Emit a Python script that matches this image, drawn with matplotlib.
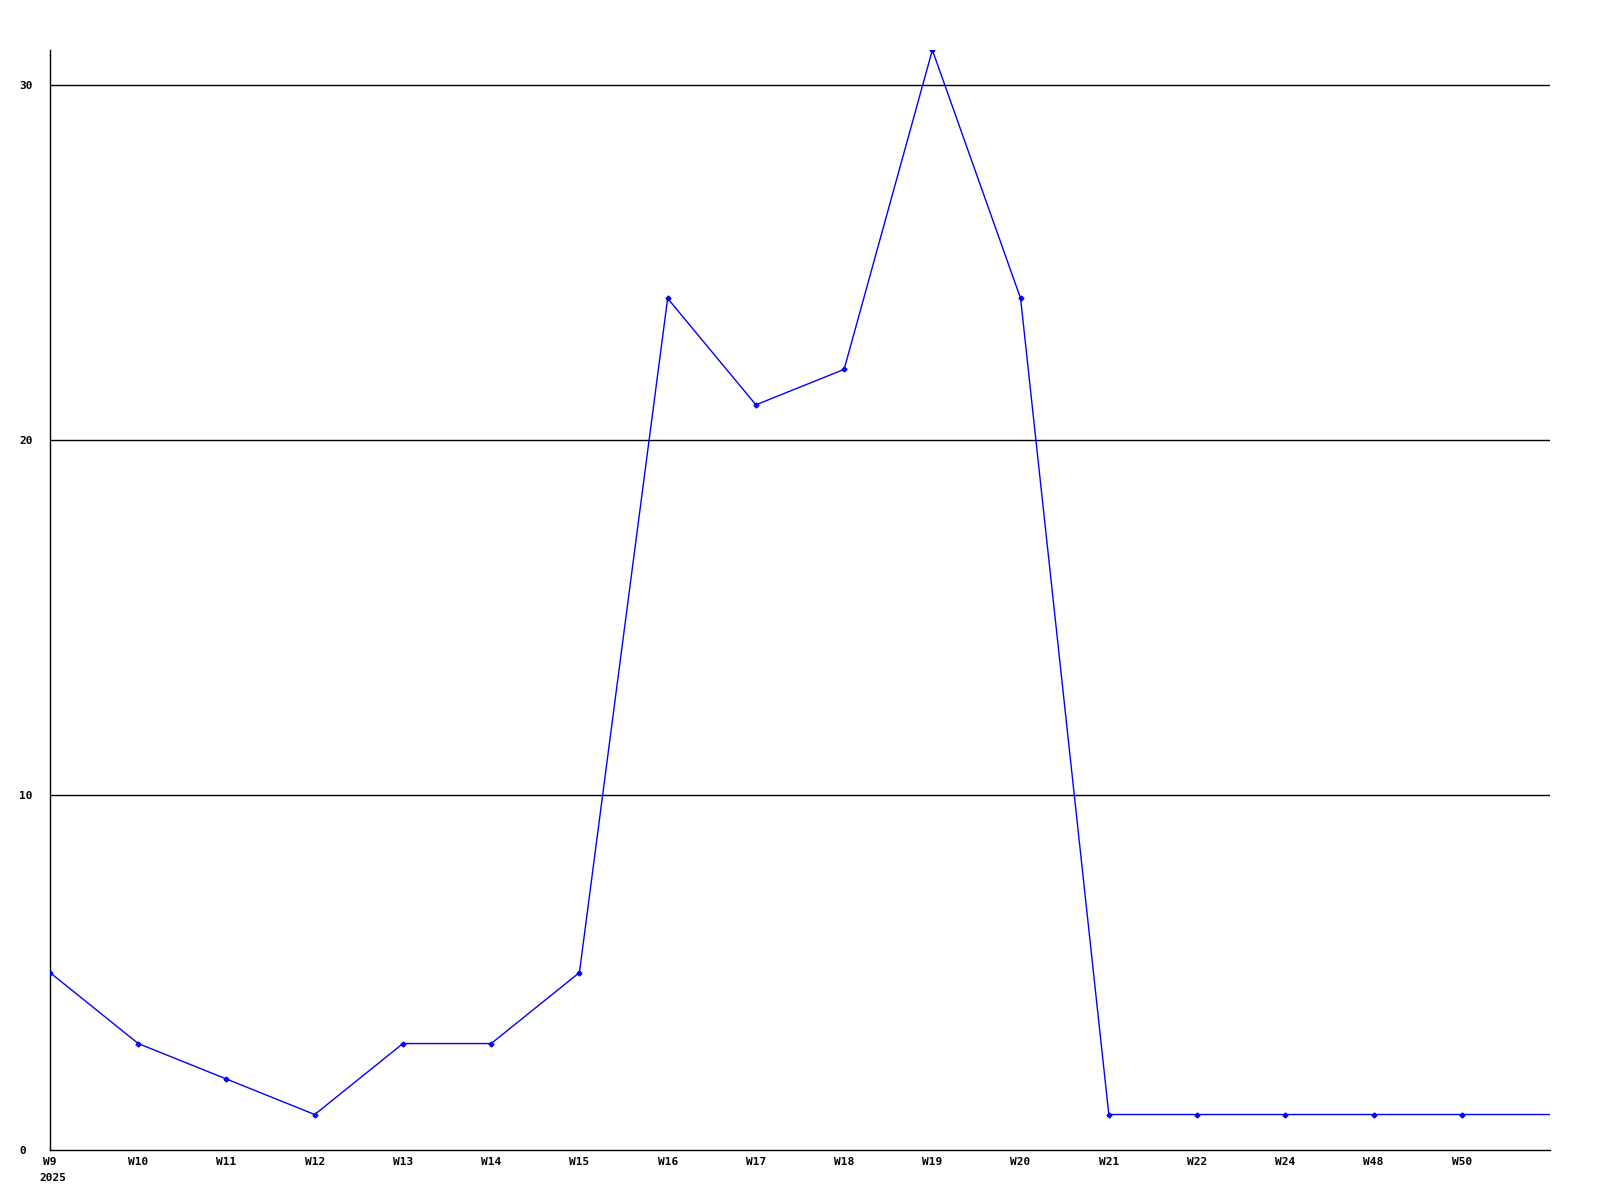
import matplotlib
matplotlib.use("Agg")
import matplotlib.pyplot as plt
import numpy as np

# weekly counts
weeks = ["W9", "W10", "W11", "W12", "W13", "W14", "W15", "W16", "W17",
         "W18", "W19", "W20", "W21", "W22", "W24", "W48", "W50"]
counts = [5, 3, 2, 1, 3, 3, 5, 24, 21, 22, 31, 24, 1, 1, 1, 1, 1]
# line runs on to the right edge at the same level
tail_value = 1
year_label = "2025"
y_ticks = [0, 10, 20, 30]

font = {"family": "DejaVu Sans Mono", "weight": "bold", "size": 8}

fig = plt.figure(figsize=(16, 12), dpi=100)
ax = fig.add_axes([50 / 1600, 1 - 1150 / 1200, 1500 / 1600, 1100 / 1200])

x = np.arange(len(weeks))
xs = np.append(x, len(weeks))
ys = counts + [tail_value]
ax.plot(xs, ys, color="#0000ff", lw=1, marker="D", ms=2.5,
        markevery=list(range(len(weeks))), zorder=3)

ax.set_xlim(0, len(weeks))
ax.set_ylim(0, max(counts))

for v in y_ticks[1:]:
    ax.axhline(v, color="black", lw=1, zorder=1)

ax.set_xticks(x)
ax.set_xticklabels(weeks, fontdict=font)
ax.set_yticks(y_ticks)
ax.set_yticklabels([str(v) for v in y_ticks], fontdict=font, ha="left")
ax.tick_params(axis="x", length=0, pad=5)
ax.tick_params(axis="y", length=0, pad=22)

ax.text(-0.12, -0.021, year_label, transform=ax.get_xaxis_transform(),
        ha="left", va="top", **font)

ax.spines["top"].set_visible(False)
ax.spines["right"].set_visible(False)
ax.spines["left"].set_linewidth(1)
ax.spines["bottom"].set_linewidth(1)

fig.savefig("out.png", dpi=100)
